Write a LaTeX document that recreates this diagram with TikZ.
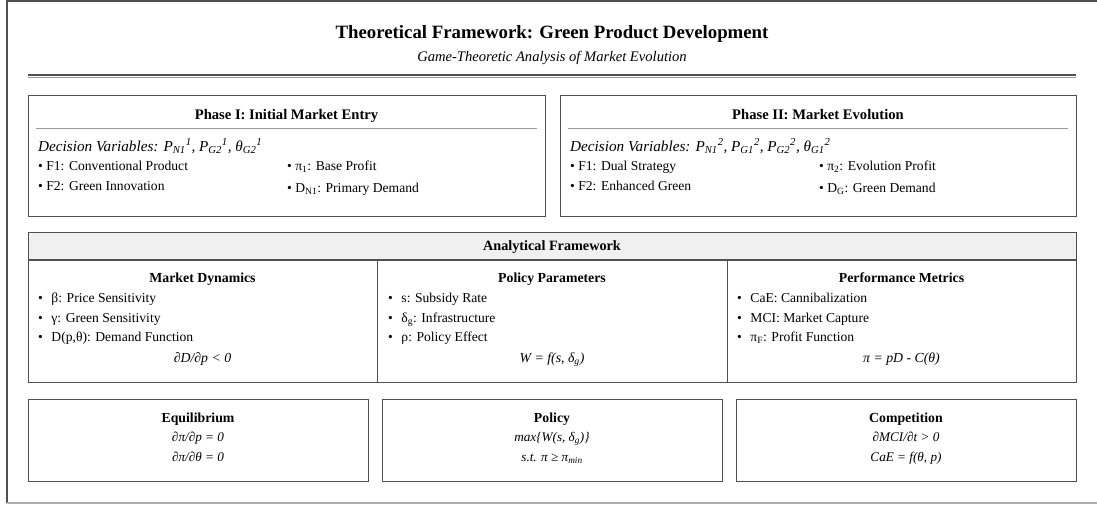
\documentclass[tikz,border=0pt]{standalone}
\usepackage{fontspec}
\setmainfont{Liberation Serif}
\usetikzlibrary{positioning}
\definecolor{framegray}{HTML}{505050}
\definecolor{rulegray}{HTML}{9A9A9A}
\definecolor{bandgray}{HTML}{F0F0F0}
\tikzstyle{panel} = [draw=framegray, line width=1pt]
\tikzstyle{lbl} = [inner sep=0pt, font=\fontsize{13.6}{16}\selectfont]
\tikzstyle{hd} = [inner sep=0pt, anchor=base, font=\bfseries\fontsize{13.8}{16}\selectfont]
\tikzstyle{item} = [lbl, anchor=base west]
\tikzstyle{eq} = [inner sep=0pt, anchor=base, font=\itshape\fontsize{13.8}{16}\selectfont]
\newcommand{\bul}{\textbullet\hspace{8.5pt}}

\begin{document}
\begin{tikzpicture}[x=1pt,y=-1pt]
\useasboundingbox (0,0) rectangle (1097,506);
% outer frame
\draw[framegray, line width=1.5pt] (1097,1) -- (7,1) -- (7,503);
\draw[rulegray!80, line width=2pt] (7,502.5) -- (1097,502.5);
% heading
\node (title) [hd, font=\bfseries\fontsize{18.8}{22}\selectfont] at (552,38.5) {Theoretical Framework: Green Product Development};
\node (subtitle) [eq, font=\itshape\fontsize{14.6}{17}\selectfont] at (552,61) {Game-Theoretic Analysis of Market Evolution};
\draw[framegray, line width=1.2pt] (28,75) -- (1076,75);
\draw[rulegray, line width=1pt] (28,77.5) -- (1076,77.5);
%
% Phase I
\draw[panel] (28,95) rectangle (545,216);
\node (p1head) [hd, font=\bfseries\fontsize{14.6}{17}\selectfont] at (286.5,119) {Phase I: Initial Market Entry};
\draw[rulegray] (36,128) -- (537,128);
\node (p1dec) [item, font=\itshape\fontsize{15.2}{18}\selectfont] at (38,151) {Decision Variables: P\textsubscript{N1}\textsuperscript{1}, P\textsubscript{G2}\textsuperscript{1}, θ\textsubscript{G2}\textsuperscript{1}};
\node (p1a) [item] at (38,170.5) {\textbullet\ F1: Conventional Product};
\node (p1b) [item] at (38,190.5) {\textbullet\ F2: Green Innovation};
\node (p1c) [item] at (287,170.5) {\textbullet\ π\textsubscript{1}: Base Profit};
\node (p1d) [item] at (287,192.5) {\textbullet\ D\textsubscript{N1}: Primary Demand};
%
% Phase II
\draw[panel] (560,95) rectangle (1076,216);
\node (p2head) [hd, font=\bfseries\fontsize{14.6}{17}\selectfont] at (818,119) {Phase II: Market Evolution};
\draw[rulegray] (568,128) -- (1068,128);
\node (p2dec) [item, font=\itshape\fontsize{15.2}{18}\selectfont] at (570,151) {Decision Variables: P\textsubscript{N1}\textsuperscript{2}, P\textsubscript{G1}\textsuperscript{2}, P\textsubscript{G2}\textsuperscript{2}, θ\textsubscript{G1}\textsuperscript{2}};
\node (p2a) [item] at (570,170.5) {\textbullet\ F1: Dual Strategy};
\node (p2b) [item] at (570,190.5) {\textbullet\ F2: Enhanced Green};
\node (p2c) [item] at (819,170.5) {\textbullet\ π\textsubscript{2}: Evolution Profit};
\node (p2d) [item] at (819,192.5) {\textbullet\ D\textsubscript{G}: Green Demand};
%
% Analytical framework
\fill[bandgray] (28,232) rectangle (1076,260);
\draw[panel] (28,232) rectangle (1076,382);
\draw[framegray, line width=1.5pt] (28,260) -- (1076,260);
\draw[framegray] (377,260) -- (377,382);
\draw[framegray] (727,260) -- (727,382);
\node (afhead) [hd, font=\bfseries\fontsize{14.2}{17}\selectfont] at (552,250.5) {Analytical Framework};
%
\node (mdhead) [hd] at (202.5,282.5) {Market Dynamics};
\node (md1) [item] at (38,302.5) {\bul β: Price Sensitivity};
\node (md2) [item] at (38,322.5) {\bul γ: Green Sensitivity};
\node (md3) [item] at (38,341.5) {\bul D(p,θ): Demand Function};
\node (mdeq) [eq] at (202.5,362) {∂D/∂p < 0};
%
\node (pphead) [hd] at (552,282.5) {Policy Parameters};
\node (pp1) [item] at (388,302.5) {\bul s: Subsidy Rate};
\node (pp2) [item] at (388,322.5) {\bul δ\textsubscript{g}: Infrastructure};
\node (pp3) [item] at (388,341.5) {\bul ρ: Policy Effect};
\node (ppeq) [eq] at (552,362) {W = f(s, δ\textsubscript{g})};
%
\node (pmhead) [hd] at (901.5,282.5) {Performance Metrics};
\node (pm1) [item] at (737,302.5) {\bul CaE: Cannibalization};
\node (pm2) [item] at (737,322.5) {\bul MCI: Market Capture};
\node (pm3) [item] at (737,341.5) {\bul π\textsubscript{F}: Profit Function};
\node (pmeq) [eq] at (901.5,362) {π = pD - C(θ)};
%
% bottom boxes
\draw[panel] (28,399) rectangle (368,481);
\node (eqhead) [hd] at (198,422.5) {Equilibrium};
\node (eq1) [eq, font=\itshape\fontsize{13.2}{16}\selectfont] at (198,441.5) {∂π/∂p = 0};
\node (eq2) [eq, font=\itshape\fontsize{13.2}{16}\selectfont] at (198,461.5) {∂π/∂θ = 0};
%
\draw[panel] (382,399) rectangle (722,481);
\node (pohead) [hd] at (552,422.5) {Policy};
\node (po1) [eq, font=\itshape\fontsize{13.2}{16}\selectfont] at (552,441.5) {max\{W(s, δ\textsubscript{g})\}};
\node (po2) [eq, font=\itshape\fontsize{13.2}{16}\selectfont] at (552,461.5) {s.t. π ≥ π\textsubscript{min}};
%
\draw[panel] (736,399) rectangle (1076,481);
\node (cohead) [hd] at (906,422.5) {Competition};
\node (co1) [eq, font=\itshape\fontsize{13.2}{16}\selectfont] at (906,441.5) {∂MCI/∂t > 0};
\node (co2) [eq, font=\itshape\fontsize{13.2}{16}\selectfont] at (906,461.5) {CaE = f(θ, p)};
\end{tikzpicture}
\end{document}
